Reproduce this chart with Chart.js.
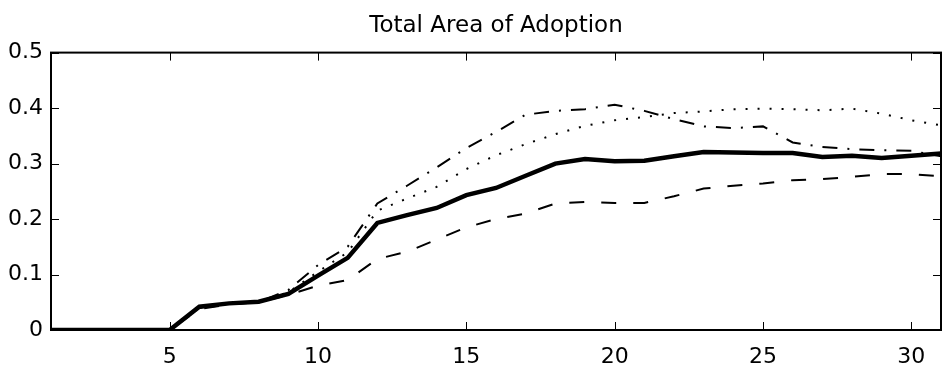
<!DOCTYPE html>
<html>
<head>
<meta charset="utf-8">
<script src="https://cdn.jsdelivr.net/npm/chart.js@4/dist/chart.umd.min.js"></script>
<style>
  body { margin: 0; background: #fff; }
  #wrap { width: 942px; height: 365px; }
</style>
</head>
<body>
<div id="wrap"><canvas id="adoptionChart" width="942" height="365"></canvas></div>
<script>
// --------------------------------
// Data
// --------------------------------
const periods = [1, 2, 3, 4, 5, 6, 7, 8, 9, 10, 11, 12, 13, 14, 15, 16,
                 17, 18, 19, 20, 21, 22, 23, 24, 25, 26, 27, 28, 29, 30, 31];

const solidSeries = [0, 0, 0, 0, 0, 0.042, 0.048, 0.051, 0.065, 0.098, 0.130, 0.193, 0.207, 0.220, 0.243, 0.256,
                     0.278, 0.300, 0.308, 0.304, 0.305, 0.313, 0.321, 0.320, 0.319, 0.319, 0.312, 0.314, 0.310, 0.314, 0.318];
const dashedSeries = [0, 0, 0, 0, 0, 0.038, 0.046, 0.050, 0.063, 0.080, 0.090, 0.128, 0.141, 0.163, 0.185, 0.200,
                      0.210, 0.228, 0.231, 0.229, 0.229, 0.241, 0.255, 0.260, 0.264, 0.270, 0.272, 0.276, 0.281, 0.281, 0.277];
const dottedSeries = [0, 0, 0, 0, 0, 0.040, 0.047, 0.050, 0.068, 0.105, 0.140, 0.215, 0.237, 0.258, 0.290, 0.315,
                      0.335, 0.353, 0.368, 0.378, 0.384, 0.391, 0.394, 0.398, 0.399, 0.398, 0.396, 0.399, 0.390, 0.378, 0.369];
const dashDotSeries = [0, 0, 0, 0, 0, 0.040, 0.047, 0.050, 0.072, 0.117, 0.150, 0.228, 0.260, 0.293, 0.328, 0.357,
                       0.388, 0.395, 0.398, 0.406, 0.395, 0.380, 0.367, 0.364, 0.367, 0.338, 0.330, 0.326, 0.324, 0.323, 0.313];

const xTicks = [5, 10, 15, 20, 25, 30];
const yTicks = [0, 0.1, 0.2, 0.3, 0.4, 0.5];

const FONT = "'DejaVu Sans', 'Liberation Sans', Arial, sans-serif";

function toPoints(values) {
    return values.map((v, i) => ({ x: periods[i], y: v }));
}

function lineSet(values, width, dash) {
    return {
        data: toPoints(values),
        borderColor: '#000',
        borderWidth: width,
        borderDash: dash,
        pointRadius: 0,
        tension: 0,
        fill: false
    };
}

// MATLAB style box with inward tick marks on all four sides
const boxAxes = {
    id: 'boxAxes',
    afterDraw(chart) {
        const ctx = chart.ctx;
        const a = chart.chartArea;
        const xs = chart.scales.x;
        const ys = chart.scales.y;
        const len = 8;
        ctx.save();
        ctx.strokeStyle = '#000';
        ctx.lineWidth = 1;
        ctx.beginPath();
        xTicks.forEach(t => {
            const px = Math.round(xs.getPixelForValue(t)) + 0.5;
            ctx.moveTo(px, a.bottom); ctx.lineTo(px, a.bottom - len);
            ctx.moveTo(px, a.top); ctx.lineTo(px, a.top + len);
        });
        yTicks.forEach(t => {
            const py = Math.round(ys.getPixelForValue(t)) + 0.5;
            ctx.moveTo(a.left, py); ctx.lineTo(a.left + len, py);
            ctx.moveTo(a.right, py); ctx.lineTo(a.right - len, py);
        });
        ctx.stroke();
        ctx.lineWidth = 2;
        ctx.strokeRect(a.left, a.top, a.right - a.left, a.bottom - a.top);
        ctx.restore();
    }
};

const ctx = document.getElementById('adoptionChart').getContext('2d');
const adoptionChart = new Chart(ctx, {
    type: 'line',
    data: {
        datasets: [
            lineSet(dashedSeries, 2, [15, 17]),
            lineSet(dottedSeries, 2, [2, 10]),
            lineSet(dashDotSeries, 2, [15, 10, 2, 10]),
            lineSet(solidSeries, 4.5, [])
        ]
    },
    options: {
        responsive: false,
        animation: false,
        events: [],
        layout: { padding: { left: 0, right: 1, top: 0, bottom: 0 } },
        plugins: {
            legend: { display: false },
            tooltip: { enabled: false },
            title: {
                display: true,
                fullSize: false,
                text: 'Total Area of Adoption',
                color: '#000',
                font: { family: FONT, size: 23, weight: 'normal' },
                padding: { top: 12, bottom: 13 }
            }
        },
        scales: {
            x: {
                type: 'linear',
                min: 1,
                max: 31,
                afterBuildTicks: (scale) => { scale.ticks = xTicks.map(v => ({ value: v })); },
                afterFit: (scale) => { scale.height = 35; },
                grid: { drawOnChartArea: false, drawTicks: false },
                border: { display: false },
                ticks: {
                    color: '#000',
                    padding: 14,
                    maxRotation: 0,
                    font: { family: FONT, size: 22 }
                }
            },
            y: {
                min: 0,
                max: 0.5,
                afterBuildTicks: (scale) => { scale.ticks = yTicks.map(v => ({ value: v })); },
                afterFit: (scale) => { scale.width = 51; },
                grid: { drawOnChartArea: false, drawTicks: false },
                border: { display: false },
                ticks: {
                    color: '#000',
                    padding: 8,
                    font: { family: FONT, size: 22 },
                    callback: (v) => String(v)
                }
            }
        }
    },
    plugins: [boxAxes]
});
</script>
</body>
</html>
